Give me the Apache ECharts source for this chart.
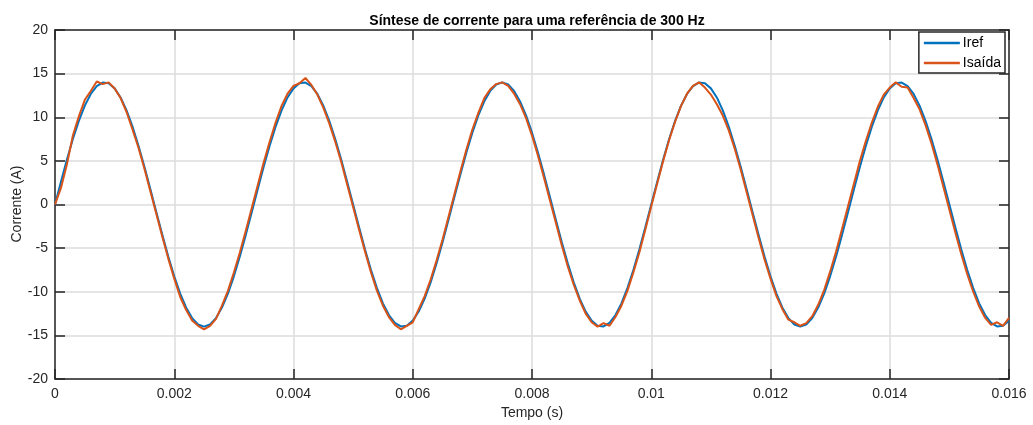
<!DOCTYPE html>
<html>
<head>
<meta charset="utf-8">
<script src="https://cdn.jsdelivr.net/npm/echarts@6/dist/echarts.min.js"></script>
<style>html,body{margin:0;padding:0;background:#fff}#c{width:1033px;height:425px}</style>
</head>
<body>
<div id="c"></div>
<script>
// time step between samples (s)
var dt = 0.0001;
// Iref values (A), one per 0.0001 s from 0 to 0.016
var iref = [
0,2.62,5.15,7.50,9.58,11.33,12.67,13.56,13.97,13.89,
13.31,12.27,10.79,8.92,6.74,4.33,1.75,-0.88,-3.48,-5.96,
-8.23,-10.21,-11.82,-13.02,-13.75,-14.00,-13.75,-13.02,-11.82,-10.21,
-8.23,-5.96,-3.48,-0.88,1.75,4.33,6.74,8.92,10.79,12.27,
13.31,13.89,13.97,13.56,12.67,11.33,9.58,7.50,5.15,2.62,
0,-2.62,-5.15,-7.50,-9.58,-11.33,-12.67,-13.56,-13.97,-13.89,
-13.31,-12.27,-10.79,-8.92,-6.74,-4.33,-1.75,0.88,3.48,5.96,
8.23,10.21,11.82,13.02,13.75,14.00,13.75,13.02,11.82,10.21,
8.23,5.96,3.48,0.88,-1.75,-4.33,-6.74,-8.92,-10.79,-12.27,
-13.31,-13.89,-13.97,-13.56,-12.67,-11.33,-9.58,-7.50,-5.15,-2.62,
0,2.62,5.15,7.50,9.58,11.33,12.67,13.56,13.97,13.89,
13.31,12.27,10.79,8.92,6.74,4.33,1.75,-0.88,-3.48,-5.96,
-8.23,-10.21,-11.82,-13.02,-13.75,-14.00,-13.75,-13.02,-11.82,-10.21,
-8.23,-5.96,-3.48,-0.88,1.75,4.33,6.74,8.92,10.79,12.27,
13.31,13.89,13.97,13.56,12.67,11.33,9.58,7.50,5.15,2.62,
0,-2.62,-5.15,-7.50,-9.58,-11.33,-12.67,-13.56,-13.97,-13.89,
-13.31
];
// Isaida values (A), same time base
var isaida = [
0,1.9,4.6,7.9,10.1,12.0,13.0,14.1,13.8,14.0,
13.3,12.2,10.6,8.6,6.5,4.1,1.5,-1.1,-3.7,-6.2,
-8.5,-10.6,-12.1,-13.3,-13.9,-14.3,-13.9,-13.1,-11.6,-9.9,
-7.8,-5.5,-3.0,-0.4,2.2,4.8,7.2,9.4,11.3,12.7,
13.6,13.9,14.5,13.7,12.6,11.1,9.3,7.2,4.9,2.3,
-0.3,-2.9,-5.4,-7.8,-9.9,-11.6,-12.9,-13.8,-14.3,-13.9,
-13.5,-12.0,-10.5,-8.6,-6.4,-4.0,-1.4,1.2,3.8,6.3,
8.6,10.5,12.2,13.2,13.8,14.0,13.6,12.7,11.5,9.9,
7.9,5.6,3.1,0.5,-2.1,-4.7,-7.1,-9.2,-11.0,-12.5,
-13.5,-14.0,-13.6,-13.9,-12.9,-11.6,-9.9,-7.8,-5.5,-2.9,
-0.2,2.4,5.0,7.4,9.5,11.3,12.7,13.6,14.0,13.4,
12.6,11.5,10.2,8.5,6.4,4.0,1.4,-1.2,-3.8,-6.3,
-8.5,-10.5,-12.0,-13.2,-13.5,-13.9,-13.6,-12.8,-11.5,-9.8,
-7.7,-5.4,-2.8,-0.2,2.4,5.0,7.3,9.4,11.2,12.6,
13.4,14.0,13.5,13.4,12.2,10.9,9.1,7.0,4.6,2.0,
-0.6,-3.2,-5.7,-8.0,-10.0,-11.7,-13.0,-13.8,-13.5,-13.9,
-13.0
];
var xTicks = [0,0.002,0.004,0.006,0.008,0.01,0.012,0.014,0.016];
var xTickLabels = ['0','0.002','0.004','0.006','0.008','0.01','0.012','0.014','0.016'];
var yTickLabels = ['-20','-15','-10','-5','0','5','10','15','20'];
var yName = 'Corrente (A)';

function pairs(arr){
  return arr.map(function(v,i){ return [+(i*dt).toFixed(5), v]; });
}
function xFmt(v){
  for (var i=0;i<xTicks.length;i++){ if (Math.abs(v-xTicks[i])<1e-9) return xTickLabels[i]; }
  return '';
}
var FONT = 'Liberation Sans, Arial, Helvetica, sans-serif';
var AX = '#262626';
var GRID = '#dcdcdc';
var chart = echarts.init(document.getElementById('c'), null, {renderer:'canvas'});
chart.setOption({
  animation:false,
  backgroundColor:'#fff',
  title:{text:'Síntese de corrente para uma referência de 300 Hz', left:532, textAlign:'center', top:9,
    textStyle:{fontFamily:FONT, fontSize:14, fontWeight:'bold', color:'#000'}},
  grid:{left:55, right:24, top:30, bottom:46, containLabel:false, outerBoundsMode:'none'},
  graphic:[{
    type:'text', x:17, y:204, rotation:Math.PI/2, silent:true,
    style:{text:yName, fontFamily:FONT, fontSize:14, fill:AX, align:'center', verticalAlign:'middle'}
  }],
  legend:{
    data:['Iref','Isaída'], orient:'vertical', right:28, top:32,
    icon:'rect', itemWidth:36, itemHeight:2.5, itemGap:4, padding:[3,4,2,5],
    borderColor:AX, borderWidth:1.5, backgroundColor:'#fff',
    textStyle:{fontFamily:FONT, fontSize:14, lineHeight:16, color:'#000', padding:[0,0,0,-2]}
  },
  xAxis:[{
    type:'value', min:0, max:0.016, interval:0.002,
    name:'Tempo (s)', nameLocation:'middle', nameGap:25,
    nameTextStyle:{fontFamily:FONT, fontSize:14, color:AX},
    axisLine:{onZero:false, lineStyle:{color:AX, width:1.5}},
    axisTick:{inside:true, length:10, lineStyle:{color:AX, width:1.5}},
    axisLabel:{fontFamily:FONT, fontSize:14, color:AX, margin:8, formatter:xFmt},
    splitLine:{show:true, lineStyle:{color:GRID, width:1.5}}
  },{
    type:'value', position:'top', min:0, max:0.016, interval:0.002,
    axisLine:{onZero:false, lineStyle:{color:AX, width:1.5}},
    axisTick:{inside:true, length:10, lineStyle:{color:AX, width:1.5}},
    axisLabel:{show:false}, splitLine:{show:false}
  }],
  yAxis:[{
    type:'value', min:-20, max:20, interval:5,
    axisLine:{onZero:false, lineStyle:{color:AX, width:1.5}},
    axisTick:{inside:true, length:10, lineStyle:{color:AX, width:1.5}},
    axisLabel:{fontFamily:FONT, fontSize:14, color:AX, margin:7,
      formatter:function(v){ return yTickLabels[Math.round((v+20)/5)]; }},
    splitLine:{show:true, lineStyle:{color:GRID, width:1.5}}
  },{
    type:'value', position:'right', min:-20, max:20, interval:5,
    axisLine:{onZero:false, lineStyle:{color:AX, width:1.5}},
    axisTick:{inside:true, length:10, lineStyle:{color:AX, width:1.5}},
    axisLabel:{show:false}, splitLine:{show:false}
  }],
  series:[
    {name:'Iref', type:'line', data:pairs(iref), showSymbol:false, symbol:'none',
      lineStyle:{color:'#0072BD', width:2}, itemStyle:{color:'#0072BD'}},
    {name:'Isaída', type:'line', data:pairs(isaida), showSymbol:false, symbol:'none',
      lineStyle:{color:'#D95319', width:2}, itemStyle:{color:'#D95319'}}
  ]
});
</script>
</body>
</html>
